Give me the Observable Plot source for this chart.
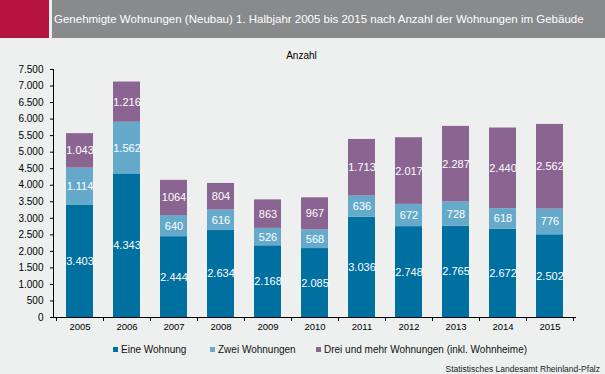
<!DOCTYPE html>
<html>
<head>
<meta charset="utf-8">
<script src="https://cdn.jsdelivr.net/npm/d3@7"></script>
<script src="https://cdn.jsdelivr.net/npm/@observablehq/plot@0.6"></script>
<style>
  html, body { margin: 0; padding: 0; background: #eef0ef; }
  #wrap { position: relative; width: 605px; height: 374px; overflow: hidden; background: #eef0ef; font-family: "Liberation Sans", Arial, sans-serif; }
  #red { position: absolute; left: 0; top: 0; width: 49px; height: 38px; background: #b5123f; }
  #bar { position: absolute; left: 52px; top: 0; width: 553px; height: 38px; background: #898a8c; }
  #title { position: absolute; left: 54px; top: 0; height: 38px; line-height: 38px; color: #fff; font-size: 11.5px; white-space: nowrap; }
  #unit { position: absolute; left: 0; width: 603px; top: 50px; text-align: center; font-size: 10px; color: #000; }
  #chart { position: absolute; left: 0; top: 48px; }
  .leg { position: absolute; top: 344px; font-size: 10px; color: #111; white-space: nowrap; line-height: 12px; }
  .leg i { display: inline-block; width: 5px; height: 5px; margin-right: 3px; vertical-align: 1px; }
  #source { position: absolute; right: 5px; top: 364px; font-size: 8.5px; color: #222; white-space: nowrap; }
</style>
</head>
<body>
<div id="wrap">
  <div id="red"></div>
  <div id="bar"></div>
  <div id="title"></div>
  <div id="unit"></div>
  <div id="chart"></div>
  <div id="legend"></div>
  <div id="source"></div>
</div>
<script>
const titleText = "Genehmigte Wohnungen (Neubau) 1. Halbjahr 2005 bis 2015 nach Anzahl der Wohnungen im Gebäude";
const unitText = "Anzahl";
const sourceText = "Statistisches Landesamt Rheinland-Pfalz";

const years = ["2005","2006","2007","2008","2009","2010","2011","2012","2013","2014","2015"];
const seriesNames = ["Eine Wohnung", "Zwei Wohnungen", "Drei und mehr Wohnungen (inkl. Wohnheime)"];
const eine = [3403, 4343, 2444, 2634, 2168, 2085, 3036, 2748, 2765, 2672, 2502];
const zwei = [1114, 1562, 640, 616, 526, 568, 636, 672, 728, 618, 776];
const drei = [1043, 1216, 1064, 804, 863, 967, 1713, 2017, 2287, 2440, 2562];
const colors = ["#0070a0", "#66aacb", "#8b6591"];
const yTicks = [0, 500, 1000, 1500, 2000, 2500, 3000, 3500, 4000, 4500, 5000, 5500, 6000, 6500, 7000, 7500];
// label shown without thousands separator in the original
const labelOverrides = {"2007|2": "1064"};

const fmt = d3.formatLocale({decimal: ",", thousands: ".", grouping: [3], currency: ["", "€"]}).format(",d");

const seriesValues = [eine, zwei, drei];
const data = [];
seriesValues.forEach((vals, s) => {
  years.forEach((y, i) => {
    const key = y + "|" + s;
    data.push({year: y, series: seriesNames[s], value: vals[i], label: labelOverrides[key] ?? fmt(vals[i])});
  });
});

document.getElementById("title").textContent = titleText;
document.getElementById("unit").textContent = unitText;
document.getElementById("source").textContent = sourceText;

const legendLeft = [113, 210, 316];
const legend = document.getElementById("legend");
seriesNames.forEach((n, i) => {
  const d = document.createElement("div");
  d.className = "leg";
  d.style.left = legendLeft[i] + "px";
  d.innerHTML = `<i style="background:${colors[i]}"></i>`;
  d.appendChild(document.createTextNode(n));
  legend.appendChild(d);
});

const chart = Plot.plot({
  width: 605,
  height: 292,
  marginLeft: 53,
  marginRight: 29,
  marginTop: 21,
  marginBottom: 23,
  style: {background: "transparent", fontFamily: "Liberation Sans, Arial, sans-serif", fontSize: "10px", color: "#000", overflow: "visible"},
  x: {domain: years, paddingInner: 0.42, paddingOuter: 0.21, align: 0.5, label: null},
  y: {domain: [0, 7500], label: null},
  color: {domain: seriesNames, range: colors},
  marks: [
    Plot.barY(data, {x: "year", y: "value", fill: "series"}),
    Plot.text(data, Plot.stackY({x: "year", y: "value", z: "series", text: "label", fill: "white", fontSize: 11})),
    Plot.axisY({ticks: yTicks, tickFormat: fmt, tickSize: 3, tickPadding: 7, label: null, fontSize: 10}),
    Plot.axisX({tickSize: 0, tickPadding: 6, label: null, fontSize: 9.5}),
    Plot.ruleY([0], {stroke: "#000", strokeWidth: 1})
  ]
});
document.getElementById("chart").appendChild(chart);

// axis lines and category boundary ticks, drawn from the plot's own scales
const xs = chart.scale("x");
const ys = chart.scale("y");
const g = d3.select(chart).append("g").attr("stroke", "#000").attr("stroke-width", 1);
const y0 = ys.apply(0), yTop = ys.apply(7500);
const x0 = xs.range[0];
g.append("line").attr("x1", x0 + 0.5).attr("x2", x0 + 0.5).attr("y1", yTop).attr("y2", y0);
const gap = (xs.step - xs.bandwidth) / 2;
const bounds = years.map(y => xs.apply(y) - gap).concat([xs.apply(years[years.length - 1]) + xs.bandwidth + gap]);
bounds.forEach(b => {
  g.append("line").attr("x1", Math.round(b) + 0.5).attr("x2", Math.round(b) + 0.5).attr("y1", y0).attr("y2", y0 + 4);
});
</script>
</body>
</html>
